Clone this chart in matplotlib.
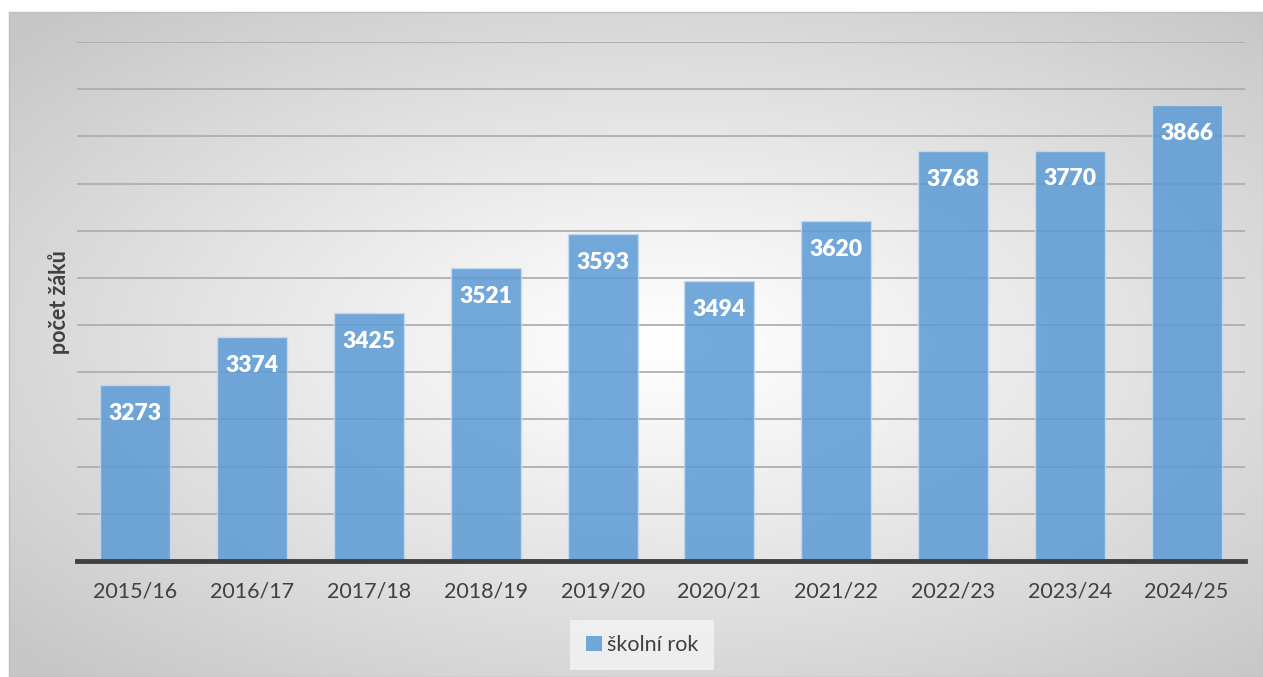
import numpy as np
import matplotlib
matplotlib.use("Agg")
import matplotlib.pyplot as plt
from matplotlib.patches import Patch

plt.rcParams["font.family"] = ["Lato", "DejaVu Sans"]

years = ["2015/16", "2016/17", "2017/18", "2018/19", "2019/20",
         "2020/21", "2021/22", "2022/23", "2023/24", "2024/25"]
pupils = [3273, 3374, 3425, 3521, 3593, 3494, 3620, 3768, 3770, 3866]
series_name = "školní rok"
y_title = "počet žáků"

W, H = 1263, 677
fig = plt.figure(figsize=(W / 100, H / 100), dpi=100)

# radial grey background of the chart area
bg = fig.add_axes([9 / W, 0, 1 - 9 / W, 1 - 12 / H], zorder=0)
gx, gy = np.meshgrid(np.linspace(-1, 1, 600), np.linspace(-1, 1, 330))
r = np.sqrt(((gx - 0.05) / 1.05) ** 2 + ((gy + 0.0) / 1.0) ** 2)
shade = 1.0 - 0.22 * np.clip(r / 1.35, 0, 1) ** 1.1
bg.imshow(np.dstack([shade] * 3), aspect="auto", extent=[0, 1, 0, 1])
bg.set_xticks([])
bg.set_yticks([])
for s in bg.spines.values():
    s.set_color("#bfbfbf")
    s.set_linewidth(1.0)

ax = fig.add_axes([77 / W, 1 - 561 / H, (1245 - 77) / W, (561 - 42) / H], zorder=1)
ax.patch.set_alpha(0)

x = np.arange(len(years))
bars = ax.bar(x, pupils, 0.6, color="#5b9bd5", alpha=0.85,
              edgecolor="#c5dcf0", linewidth=1.0, zorder=3)

for xi, v in zip(x, pupils):
    ax.annotate(str(v), (xi, v), xytext=(0, -20.5), textcoords="offset points",
                ha="center", va="center", color="white", fontsize=16.5,
                fontweight="heavy", zorder=4)

ax.set_ylim(2900, 4000)
ax.set_xlim(-0.5, len(years) - 0.5)
ax.set_yticks(np.arange(2900, 4001, 100))
ax.set_yticklabels([])
ax.tick_params(axis="y", length=0)
ax.grid(axis="y", color="#aaaaaa", linewidth=1.2, zorder=1)
ax.axhline(2900, color="#404040", linewidth=3.5, zorder=5, clip_on=False)

ax.set_xticks(x)
ax.set_xticklabels(years, fontsize=15.5, color="#404040")
ax.tick_params(axis="x", length=0, pad=15)
for s in ax.spines.values():
    s.set_visible(False)

fig.text(59 / W, 1 - 302 / H, y_title, rotation=90, ha="center", va="center",
         fontsize=15.5, fontweight="bold", color="#404040")

leg = fig.legend([Patch(facecolor="#5b9bd5", alpha=0.85, edgecolor="none")],
                 [series_name], loc="center", bbox_to_anchor=(642 / W, 1 - 645 / H),
                 fontsize=15.5, frameon=True, fancybox=False, handlelength=0.75,
                 handleheight=0.75, handletextpad=0.25, borderpad=0.7,
                 labelcolor="#404040")
leg.get_frame().set_facecolor("#f4f4f4")
leg.get_frame().set_edgecolor("none")

fig.savefig("out.png", dpi=100, facecolor="white")
